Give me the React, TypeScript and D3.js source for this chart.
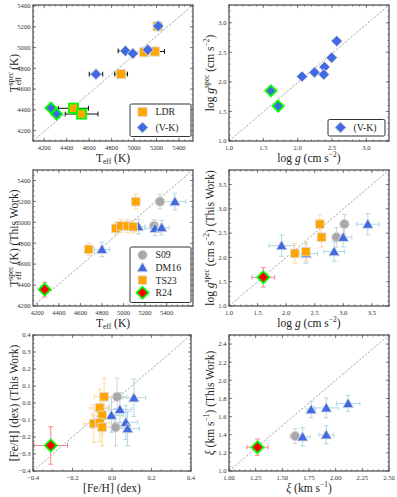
import React from 'react';
import * as d3 from 'd3';

// ---------- DATA ----------
// Panel (a): Teff, LDR vs (V-K)
const ldrTeffX = [5210, 5090, 5185, 4885, 4460, 4533];
const ldrTeffY = [5205, 4955, 4962, 4745, 4415, 4360];
const ldrTeffXErr = [0, 0, 86, 57, 134, 146];
const ldrTeffHi = [false, false, false, false, true, true];

const vkTeffX = [5215, 5123, 4923, 4989, 4661, 4260, 4310];
const vkTeffY = [5208, 4978, 4968, 4942, 4744, 4418, 4360];
const vkTeffXErr = [0, 0, 65, 0, 60, 0, 0];
const vkTeffHi = [false, false, false, false, false, true, true];

// Panel (b): log g, (V-K)
const vkLoggX = [1.61, 1.716, 2.064, 2.245, 2.39, 2.38, 2.495, 2.57];
const vkLoggY = [1.85, 1.59, 2.09, 2.16, 2.25, 2.125, 2.41, 2.69];
const vkLoggHi = [true, true, false, false, false, false, false, false];

// Panel (c): Teff literature vs this work
const s09TeffX = [5338, 5283];
const s09TeffY = [5198, 4966];
const s09TeffXErr = [0, 0];
const s09TeffYErr = [70, 60];
const dm16TeffX = [5477, 4800, 5138, 5292, 5354];
const dm16TeffY = [5198, 4741, 4958, 4942, 4950];
const dm16TeffXErr = [100, 70, 60, 90, 70];
const dm16TeffYErr = [80, 70, 70, 70, 70];
const ts23TeffX = [5114, 4677, 4929, 4975, 5037, 5089];
const ts23TeffY = [5198, 4741, 4942, 4965, 4965, 4958];
const ts23TeffXErr = [0, 0, 0, 0, 0, 0];
const ts23TeffYErr = [70, 60, 60, 60, 60, 60];
const r24TeffX = [4268];
const r24TeffY = [4357];
const r24TeffXErr = [0];
const r24TeffYErr = [70];

// Panel (d): log g literature vs this work
const s09LoggX = [3.02, 2.88];
const s09LoggY = [2.685, 2.416];
const s09LoggXErr = [0, 0];
const s09LoggYErr = [0.2, 0.2];
const dm16LoggX = [1.92, 2.35, 2.84, 3.0, 3.43];
const dm16LoggY = [2.243, 2.08, 2.12, 2.416, 2.685];
const dm16LoggXErr = [0.22, 0.2, 0.18, 0.15, 0.2];
const dm16LoggYErr = [0.22, 0.2, 0.2, 0.2, 0.22];
const ts23LoggX = [2.59, 2.62, 2.152, 2.345];
const ts23LoggY = [2.685, 2.416, 2.084, 2.119];
const ts23LoggXErr = [0, 0, 0, 0];
const ts23LoggYErr = [0.2, 0.2, 0.2, 0.2];
const r24LoggX = [1.6];
const r24LoggY = [1.59];
const r24LoggXErr = [0.2];
const r24LoggYErr = [0.2];

// Panel (e): [Fe/H]
const s09FehX = [0.026, 0.018];
const s09FehY = [0.037, -0.143];
const s09FehXErr = [0.05, 0.05];
const s09FehYErr = [0.11, 0.11];
const dm16FehX = [0.111, 0.04, -0.003, 0.07, 0.079];
const dm16FehY = [0.031, -0.038, -0.072, -0.114, -0.151];
const dm16FehXErr = [0.06, 0.06, 0.06, 0.06, 0.06];
const dm16FehYErr = [0.11, 0.1, 0.1, 0.1, 0.1];
const ts23FehX = [-0.04, -0.062, -0.05, -0.092, -0.062, -0.05];
const ts23FehY = [0.037, -0.029, -0.072, -0.121, -0.117, -0.143];
const ts23FehXErr = [0.05, 0.05, 0.05, 0.05, 0.05, 0.05];
const ts23FehYErr = [0.11, 0.11, 0.11, 0.11, 0.11, 0.11];
const r24FehX = [-0.31];
const r24FehY = [-0.25];
const r24FehXErr = [0.085];
const r24FehYErr = [0.11];

// Panel (f): microturbulence
const s09XiX = [1.62];
const s09XiY = [1.385];
const s09XiXErr = [0.05];
const s09XiYErr = [0.08];
const dm16XiX = [1.69, 1.77, 1.912, 1.912, 2.117];
const dm16XiY = [1.377, 1.677, 1.696, 1.4, 1.744];
const dm16XiXErr = [0.07, 0.04, 0.11, 0.07, 0.11];
const dm16XiYErr = [0.1, 0.09, 0.11, 0.1, 0.09];
const r24XiX = [1.267];
const r24XiY = [1.263];
const r24XiXErr = [0.1];
const r24XiYErr = [0.09];

// Ticks
const teffTicksA = [4200, 4400, 4600, 4800, 5000, 5200, 5400];
const loggTicksB = [1.0, 1.5, 2.0, 2.5, 3.0];
const loggTicksD = [1.0, 1.5, 2.0, 2.5, 3.0, 3.5];
const fehTicksX = [-0.4, -0.2, 0.0, 0.2, 0.4];
const fehTicksY = [-0.4, -0.3, -0.2, -0.1, 0.0, 0.1, 0.2, 0.3, 0.4];
const xiTicksX = [1.0, 1.25, 1.5, 1.75, 2.0, 2.25, 2.5];
const xiTicksY = [1.0, 1.2, 1.4, 1.6, 1.8, 2.0, 2.2, 2.4];

// ---------- STYLE ----------
const FONT = "'Liberation Serif', 'DejaVu Serif', serif";
const ORANGE = '#ffa500';
const BLUE = '#4169e1';
const GREY = '#a9a9a9';
const RED = '#ff0000';
const LIME = '#00ff00';

type Shape = 'square' | 'diamond' | 'circle' | 'triangle';
type Series = {
  name: string;
  shape: Shape;
  fill: string;
  stroke: string;
  sw: number;
  size: number;
  x: number[];
  y: number[];
  xerr: number[];
  yerr: number[];
  errColor: string;
  hi?: boolean[];
  hiSize?: number;
};

function symPath(shape: Shape, size: number) {
  const t =
    shape === 'square' || shape === 'diamond'
      ? d3.symbolSquare
      : shape === 'circle'
      ? d3.symbolCircle
      : d3.symbolTriangle;
  return d3.symbol().type(t).size(size)() as string;
}

function Marker({ shape, x, y, size, fill, stroke, sw }: any) {
  const rot = shape === 'diamond' ? ` rotate(45)` : '';
  const dy = shape === 'triangle' ? 1 : 0;
  return (
    <path
      d={symPath(shape, size)}
      transform={`translate(${x},${y + dy})${rot}`}
      fill={fill}
      stroke={stroke}
      strokeWidth={sw}
    />
  );
}

type PanelProps = {
  left: number;
  top: number;
  width: number;
  height: number;
  xDomain: [number, number];
  yDomain: [number, number];
  xTicks: number[];
  yTicks: number[];
  xMinor: number;
  yMinor: number;
  xFmt: (v: number) => string;
  yFmt: (v: number) => string;
  xLabel: React.ReactNode;
  yLabel: React.ReactNode;
  series: Series[];
  legend: { x0: number; y0: number; x1: number; y1: number; names: string[]; rowH: number };
};

const minus = (s: string) => s.replace('-', '\u2212');

function Panel(p: PanelProps) {
  const x = d3.scaleLinear().domain(p.xDomain).range([p.left, p.left + p.width]);
  const y = d3.scaleLinear().domain(p.yDomain).range([p.top + p.height, p.top]);
  const right = p.left + p.width;
  const bottom = p.top + p.height;
  const eps = 1e-9;
  const xMinors = d3
    .range(Math.ceil(p.xDomain[0] / p.xMinor - eps) * p.xMinor, p.xDomain[1] + eps, p.xMinor)
    .filter((v) => v >= p.xDomain[0] - eps && v <= p.xDomain[1] + eps);
  const yMinors = d3
    .range(Math.ceil(p.yDomain[0] / p.yMinor - eps) * p.yMinor, p.yDomain[1] + eps, p.yMinor)
    .filter((v) => v >= p.yDomain[0] - eps && v <= p.yDomain[1] + eps);
  const frame = '#555';
  const cap = 2.4;
  return (
    <g>
      {/* diagonal */}
      <line
        x1={p.left}
        y1={bottom}
        x2={right}
        y2={p.top}
        stroke="#8a8a8a"
        strokeWidth={0.8}
        strokeDasharray="2.2,1.6"
      />
      {/* error bars */}
      {p.series.map((s, si) =>
        s.x.map((xv, i) => {
          const cx = x(xv);
          const cy = y(s.y[i]);
          const xe = s.xerr[i];
          const ye = s.yerr[i];
          return (
            <g key={`e${si}-${i}`} stroke={s.errColor} strokeWidth={1}>
              {xe > 0 && (
                <>
                  <line x1={x(xv - xe)} x2={x(xv + xe)} y1={cy} y2={cy} />
                  <line x1={x(xv - xe)} x2={x(xv - xe)} y1={cy - cap} y2={cy + cap} />
                  <line x1={x(xv + xe)} x2={x(xv + xe)} y1={cy - cap} y2={cy + cap} />
                </>
              )}
              {ye > 0 && (
                <>
                  <line x1={cx} x2={cx} y1={y(s.y[i] - ye)} y2={y(s.y[i] + ye)} />
                  <line x1={cx - cap} x2={cx + cap} y1={y(s.y[i] - ye)} y2={y(s.y[i] - ye)} />
                  <line x1={cx - cap} x2={cx + cap} y1={y(s.y[i] + ye)} y2={y(s.y[i] + ye)} />
                </>
              )}
            </g>
          );
        })
      )}
      {/* markers */}
      {p.series.map((s, si) =>
        s.x.map((xv, i) => {
          const h = s.hi ? s.hi[i] : false;
          return (
            <Marker
              key={`m${si}-${i}`}
              shape={s.shape}
              x={x(xv)}
              y={y(s.y[i])}
              size={h && s.hiSize ? s.hiSize : s.size}
              fill={s.fill}
              stroke={h ? LIME : s.stroke}
              sw={h ? 1.8 : s.sw}
            />
          );
        })
      )}
      {/* frame */}
      <rect
        x={p.left}
        y={p.top}
        width={p.width}
        height={p.height}
        fill="none"
        stroke={frame}
        strokeWidth={1.3}
      />
      {/* ticks */}
      <g stroke={frame} strokeWidth={0.7}>
        {xMinors.map((v, i) => (
          <g key={`xm${i}`}>
            <line x1={x(v)} x2={x(v)} y1={bottom} y2={bottom - 1.6} />
            <line x1={x(v)} x2={x(v)} y1={p.top} y2={p.top + 1.6} />
          </g>
        ))}
        {yMinors.map((v, i) => (
          <g key={`ym${i}`}>
            <line x1={p.left} x2={p.left + 1.6} y1={y(v)} y2={y(v)} />
            <line x1={right} x2={right - 1.6} y1={y(v)} y2={y(v)} />
          </g>
        ))}
        {p.xTicks.map((v, i) => (
          <g key={`xt${i}`}>
            <line x1={x(v)} x2={x(v)} y1={bottom} y2={bottom - 3.2} />
            <line x1={x(v)} x2={x(v)} y1={p.top} y2={p.top + 3.2} />
          </g>
        ))}
        {p.yTicks.map((v, i) => (
          <g key={`yt${i}`}>
            <line x1={p.left} x2={p.left + 3.2} y1={y(v)} y2={y(v)} />
            <line x1={right} x2={right - 3.2} y1={y(v)} y2={y(v)} />
          </g>
        ))}
      </g>
      {/* tick labels */}
      <g fontFamily={FONT} fontSize={6.6} fill="#333">
        {p.xTicks.map((v, i) => (
          <text key={`xl${i}`} x={x(v)} y={bottom + 9} textAnchor="middle">
            {minus(p.xFmt(v))}
          </text>
        ))}
        {p.yTicks.map((v, i) => (
          <text key={`yl${i}`} x={p.left - 2.5} y={y(v) + 2.3} textAnchor="end">
            {minus(p.yFmt(v))}
          </text>
        ))}
      </g>
      {/* axis labels */}
      <text
        x={p.left + p.width / 2}
        y={bottom + 20.5}
        textAnchor="middle"
        fontFamily={FONT}
        fontSize={11.5}
        fill="#222"
      >
        {p.xLabel}
      </text>
      <text
        transform={`translate(${p.left - 15.5},${p.top + p.height / 2}) rotate(-90)`}
        textAnchor="middle"
        fontFamily={FONT}
        fontSize={11.5}
        fill="#222"
      >
        {p.yLabel}
      </text>
      {/* legend */}
      <rect
        x={p.legend.x0}
        y={p.legend.y0}
        width={p.legend.x1 - p.legend.x0}
        height={p.legend.y1 - p.legend.y0}
        rx={1.5}
        fill="white"
        stroke="#333"
        strokeWidth={1}
      />
      {p.legend.names.map((n, i) => {
        const s = p.series.find((q) => q.name === n)!;
        const cy = p.legend.y0 + 8 + i * p.legend.rowH;
        const lx = p.legend.x0 + 12.5;
        const special = n === 'R24';
        return (
          <g key={`lg${i}`}>
            <Marker
              shape={s.shape}
              x={lx}
              y={cy}
              size={special ? s.size : s.size}
              fill={s.fill}
              stroke={special ? LIME : s.stroke}
              sw={special ? 1.8 : s.sw}
            />
            <text x={lx + 13} y={cy + 3.4} fontFamily={FONT} fontSize={9.8} fill="#222">
              {n}
            </text>
          </g>
        );
      })}
    </g>
  );
}

// Label helpers
const SUB = 7.5;
const TeffLbl = () => (
  <>
    <tspan>T</tspan>
    <tspan fontSize={SUB} dy={2.5}>eff</tspan>
    <tspan dy={-2.5}> (K)</tspan>
  </>
);
const TeffSpecLbl = ({ tw }: { tw?: boolean }) => (
  <>
    <tspan>T</tspan>
    <tspan fontSize={SUB} dy={-4.5}>spec</tspan>
    <tspan fontSize={SUB} dx={-13.5} dy={7.5}>eff</tspan>
    <tspan dx={4.5} dy={-3}> (K)</tspan>
    {tw && <tspan> (This Work)</tspan>}
  </>
);
const LoggLbl = () => (
  <>
    <tspan>log </tspan>
    <tspan fontStyle="italic">g</tspan>
    <tspan> (cm s</tspan>
    <tspan fontSize={SUB} dy={-4.5}>−2</tspan>
    <tspan dy={4.5}>)</tspan>
  </>
);
const LoggSpecLbl = ({ tw }: { tw?: boolean }) => (
  <>
    <tspan>log </tspan>
    <tspan fontStyle="italic">g</tspan>
    <tspan fontSize={SUB} dy={-4.5}>spec</tspan>
    <tspan dy={4.5}> (cm s</tspan>
    <tspan fontSize={SUB} dy={-4.5}>−2</tspan>
    <tspan dy={4.5}>)</tspan>
    {tw && <tspan> (This Work)</tspan>}
  </>
);
const FehLbl = ({ tw }: { tw?: boolean }) => (
  <>
    <tspan>[Fe/H] (dex)</tspan>
    {tw && <tspan> (This Work)</tspan>}
  </>
);
const XiLbl = ({ tw }: { tw?: boolean }) => (
  <>
    <tspan fontStyle="italic">ξ</tspan>
    <tspan> (km s</tspan>
    <tspan fontSize={SUB} dy={-4.5}>−1</tspan>
    <tspan dy={4.5}>)</tspan>
    {tw && <tspan> (This Work)</tspan>}
  </>
);

const zeros = (n: number) => new Array(n).fill(0);

const mk = (
  name: string,
  shape: Shape,
  fill: string,
  size: number,
  x: number[],
  y: number[],
  xerr: number[],
  yerr: number[],
  errColor: string,
  extra: Partial<Series> = {}
): Series => ({
  name,
  shape,
  fill,
  stroke: '#dcdcdc',
  sw: 0.9,
  size,
  x,
  y,
  xerr,
  yerr,
  errColor,
  ...extra,
});

const ERR_S09 = '#d3d3d3';
const ERR_DM16 = '#add8e6';
const ERR_TS23 = '#ffd79a';
const ERR_R24 = '#f08a8a';

const SQ = 85;
const DI = 62;
const CI = 70;
const TR = 52;

function litSeries(
  s09: number[][],
  dm16: number[][],
  ts23: number[][] | null,
  r24: number[][]
): Series[] {
  const out: Series[] = [];
  out.push(mk('S09', 'circle', GREY, CI, s09[0], s09[1], s09[2], s09[3], ERR_S09));
  out.push(mk('DM16', 'triangle', BLUE, TR, dm16[0], dm16[1], dm16[2], dm16[3], ERR_DM16));
  if (ts23) out.push(mk('TS23', 'square', ORANGE, SQ - 10, ts23[0], ts23[1], ts23[2], ts23[3], ERR_TS23));
  else out.push(mk('TS23', 'square', ORANGE, SQ - 10, [], [], [], [], ERR_TS23));
  out.push(
    mk('R24', 'diamond', RED, 72, r24[0], r24[1], r24[2], r24[3], ERR_R24, {
      stroke: LIME,
      sw: 1.8,
    })
  );
  return out;
}

export default function App() {
  const L = 33,
    R = 229,
    W = 160,
    H = 136;
  const T1 = 5,
    T2 = 170,
    T3 = 335;
  const f0 = (v: number) => d3.format('.0f')(v);
  const f1 = (v: number) => d3.format('.1f')(v);
  const f2 = (v: number) => d3.format('.2f')(v);

  const panelA: Series[] = [
    mk('LDR', 'square', ORANGE, SQ, ldrTeffX, ldrTeffY, ldrTeffXErr, zeros(ldrTeffX.length), '#111', {
      hi: ldrTeffHi,
      hiSize: SQ,
    }),
    mk('(V-K)', 'diamond', BLUE, DI, vkTeffX, vkTeffY, vkTeffXErr, zeros(vkTeffX.length), '#111', {
      hi: vkTeffHi,
      hiSize: DI,
    }),
  ];
  const panelB: Series[] = [
    mk('(V-K)', 'diamond', BLUE, DI, vkLoggX, vkLoggY, zeros(vkLoggX.length), zeros(vkLoggX.length), '#111', {
      hi: vkLoggHi,
      hiSize: DI,
    }),
  ];
  const panelC = litSeries(
    [s09TeffX, s09TeffY, s09TeffXErr, s09TeffYErr],
    [dm16TeffX, dm16TeffY, dm16TeffXErr, dm16TeffYErr],
    [ts23TeffX, ts23TeffY, ts23TeffXErr, ts23TeffYErr],
    [r24TeffX, r24TeffY, r24TeffXErr, r24TeffYErr]
  );
  const panelD = litSeries(
    [s09LoggX, s09LoggY, s09LoggXErr, s09LoggYErr],
    [dm16LoggX, dm16LoggY, dm16LoggXErr, dm16LoggYErr],
    [ts23LoggX, ts23LoggY, ts23LoggXErr, ts23LoggYErr],
    [r24LoggX, r24LoggY, r24LoggXErr, r24LoggYErr]
  );
  const panelE = litSeries(
    [s09FehX, s09FehY, s09FehXErr, s09FehYErr],
    [dm16FehX, dm16FehY, dm16FehXErr, dm16FehYErr],
    [ts23FehX, ts23FehY, ts23FehXErr, ts23FehYErr],
    [r24FehX, r24FehY, r24FehXErr, r24FehYErr]
  );
  const panelF = litSeries(
    [s09XiX, s09XiY, s09XiXErr, s09XiYErr],
    [dm16XiX, dm16XiY, dm16XiXErr, dm16XiYErr],
    null,
    [r24XiX, r24XiY, r24XiXErr, r24XiYErr]
  );
  const noLegend = { x0: 0, y0: 0, x1: 0, y1: 0, names: [], rowH: 0 };

  return (
    <svg
      width={397}
      height={497}
      style={{ position: 'absolute', left: 0, top: 0, background: 'white' }}
    >
      <Panel
        left={L}
        top={T1}
        width={W}
        height={H}
        xDomain={[4100, 5525]}
        yDomain={[4100, 5410]}
        xTicks={teffTicksA}
        yTicks={teffTicksA}
        xMinor={50}
        yMinor={50}
        xFmt={f0}
        yFmt={f0}
        xLabel={<TeffLbl />}
        yLabel={<TeffSpecLbl />}
        series={panelA}
        legend={{ x0: 130, y0: 104, x1: 191, y1: 136.5, names: ['LDR', '(V-K)'], rowH: 15.5 }}
      />
      <Panel
        left={R}
        top={T1}
        width={W}
        height={H}
        xDomain={[1.0, 3.33]}
        yDomain={[1.0, 3.3]}
        xTicks={loggTicksB}
        yTicks={loggTicksB}
        xMinor={0.1}
        yMinor={0.1}
        xFmt={f1}
        yFmt={f1}
        xLabel={<LoggLbl />}
        yLabel={<LoggSpecLbl />}
        series={panelB}
        legend={{ x0: 328, y0: 119.5, x1: 385, y1: 136, names: ['(V-K)'], rowH: 15 }}
      />
      <Panel
        left={L}
        top={T2}
        width={W}
        height={H}
        xDomain={[4160, 5645]}
        yDomain={[4200, 5500]}
        xTicks={teffTicksA}
        yTicks={teffTicksA}
        xMinor={50}
        yMinor={50}
        xFmt={f0}
        yFmt={f0}
        xLabel={<TeffLbl />}
        yLabel={<TeffSpecLbl tw />}
        series={panelC}
        legend={{ x0: 130, y0: 247, x1: 191, y1: 302.5, names: ['S09', 'DM16', 'TS23', 'R24'], rowH: 12.6 }}
      />
      <Panel
        left={R}
        top={T2}
        width={W}
        height={H}
        xDomain={[1.0, 3.8]}
        yDomain={[1.0, 3.8]}
        xTicks={loggTicksD}
        yTicks={loggTicksD}
        xMinor={0.1}
        yMinor={0.1}
        xFmt={f1}
        yFmt={f1}
        xLabel={<LoggLbl />}
        yLabel={<LoggSpecLbl tw />}
        series={panelD}
        legend={noLegend}
      />
      <Panel
        left={L}
        top={T3}
        width={W - 2}
        height={H}
        xDomain={[-0.4, 0.4]}
        yDomain={[-0.4, 0.4]}
        xTicks={fehTicksX}
        yTicks={fehTicksY}
        xMinor={0.05}
        yMinor={0.025}
        xFmt={f1}
        yFmt={f1}
        xLabel={<FehLbl />}
        yLabel={<FehLbl tw />}
        series={panelE}
        legend={noLegend}
      />
      <Panel
        left={R}
        top={T3}
        width={W}
        height={H}
        xDomain={[1.0, 2.5]}
        yDomain={[1.0, 2.5]}
        xTicks={xiTicksX}
        yTicks={xiTicksY}
        xMinor={0.05}
        yMinor={0.05}
        xFmt={f2}
        yFmt={f1}
        xLabel={<XiLbl />}
        yLabel={<XiLbl tw />}
        series={panelF}
        legend={noLegend}
      />
    </svg>
  );
}
